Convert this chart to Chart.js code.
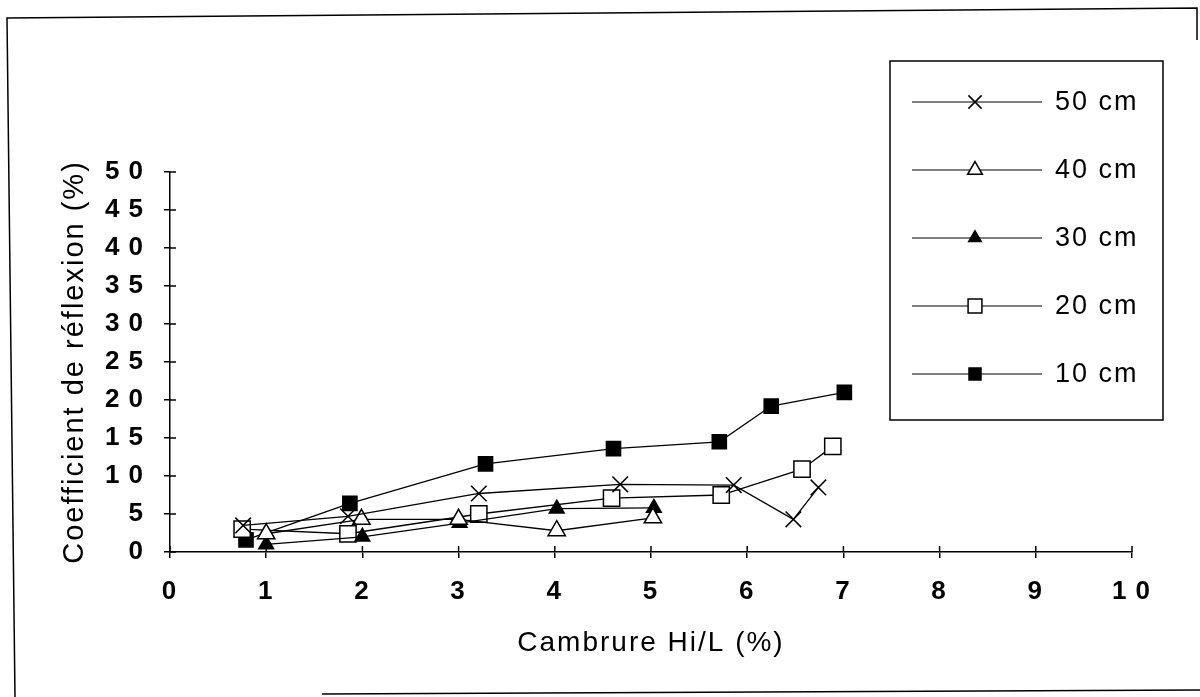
<!DOCTYPE html>
<html>
<head>
<meta charset="utf-8">
<script src="https://cdn.jsdelivr.net/npm/chart.js@4.4.0/dist/chart.umd.min.js"></script>
<style>
html,body{margin:0;padding:0;background:#fff;}
#wrap{width:1200px;height:697px;position:relative;}
</style>
</head>
<body>
<div id="wrap"><canvas id="c" width="1200" height="697"></canvas></div>
<script>
// ---- data ----
const seriesLabels = ['50 cm', '40 cm', '30 cm', '20 cm', '10 cm'];
const x50 = [0.76, 1.85, 3.21, 4.68, 5.86, 6.48, 6.74];
const y50 = [3.5, 4.7, 7.7, 8.9, 8.8, 4.3, 8.5];
const x40 = [1.00, 1.99, 3.00, 4.02, 5.02];
const y40 = [2.4, 4.3, 4.3, 2.8, 4.5];
const x30 = [1.00, 2.00, 3.01, 4.02, 5.03];
const y30 = [1.0, 2.0, 3.8, 5.7, 5.8];
const x20 = [0.75, 1.85, 3.21, 4.59, 5.73, 6.57, 6.89];
const y20 = [3.0, 2.4, 5.0, 7.1, 7.5, 10.9, 13.9];
const x10 = [0.79, 1.87, 3.28, 4.61, 5.71, 6.25, 7.01];
const y10 = [1.6, 6.4, 11.6, 13.6, 14.5, 19.2, 21.0];
const xTickValues = [0, 1, 2, 3, 4, 5, 6, 7, 8, 9, 10];
const yTickValues = [0, 5, 10, 15, 20, 25, 30, 35, 40, 45, 50];
const xTitle = 'Cambrure Hi/L (%)';
const yTitle = 'Coefficient de réflexion (%)';

const pts = (xs, ys) => xs.map((x, i) => ({x: x, y: ys[i]}));
const FONT = '"Liberation Sans", Arial, Helvetica, sans-serif';
const spaced = v => String(v).split('').join('\u2009');

const styles = [
  {pointStyle: 'crossRot', r: 11, bg: '#fff'},
  {pointStyle: 'triangle', r: 10, bg: '#fff'},
  {pointStyle: 'triangle', r: 8.5, bg: '#000'},
  {pointStyle: 'rect', r: 11.5, bg: '#fff'},
  {pointStyle: 'rect', r: 10, bg: '#000'}
];
const seriesData = [pts(x50, y50), pts(x40, y40), pts(x30, y30), pts(x20, y20), pts(x10, y10)];

const datasets = seriesLabels.map((lab, i) => ({
  label: lab,
  data: seriesData[i],
  borderColor: '#000',
  borderWidth: 1.3,
  pointStyle: styles[i].pointStyle,
  pointRadius: styles[i].r,
  pointBackgroundColor: styles[i].bg,
  pointBorderColor: '#000',
  pointBorderWidth: 1.5,
  showLine: true,
  fill: false,
  tension: 0
}));

const spacingPlugin = {
  id: 'spacing',
  beforeUpdate(chart) { chart.ctx.letterSpacing = '2px'; },
  beforeLayout(chart) { chart.ctx.letterSpacing = '2px'; },
  beforeDraw(chart) { chart.ctx.letterSpacing = '2px'; }
};

const decoPlugin = {
  id: 'deco',
  afterDraw(chart) {
    const ctx = chart.ctx;
    const xs = chart.scales.x, ys = chart.scales.y;
    ctx.save();
    ctx.strokeStyle = '#000';
    ctx.lineWidth = 1.5;
    // inner half of crossing tick marks
    const y0 = ys.getPixelForValue(0);
    xTickValues.forEach(v => {
      const px = xs.getPixelForValue(v);
      ctx.beginPath(); ctx.moveTo(px, y0 - 6); ctx.lineTo(px, y0); ctx.stroke();
    });
    const x0 = xs.getPixelForValue(0);
    yTickValues.forEach(v => {
      const py = ys.getPixelForValue(v);
      ctx.beginPath(); ctx.moveTo(x0, py); ctx.lineTo(x0 + 6, py); ctx.stroke();
    });
    // outer frame of the figure
    ctx.lineWidth = 1.5;
    ctx.beginPath();
    ctx.moveTo(15, 697); ctx.lineTo(7, 18); ctx.lineTo(1197, 8); ctx.lineTo(1197, 40);
    ctx.stroke();
    ctx.beginPath();
    ctx.moveTo(322, 694); ctx.lineTo(1200, 690);
    ctx.stroke();
    // legend box
    ctx.strokeRect(890, 61, 273, 359);
    chart.data.datasets.forEach((ds, i) => {
      const y = 102 + i * 68;
      ctx.lineWidth = 1.2;
      ctx.beginPath(); ctx.moveTo(912, y); ctx.lineTo(1042, y); ctx.stroke();
      ctx.fillStyle = ds.pointBackgroundColor;
      ctx.strokeStyle = '#000';
      ctx.lineWidth = 1.5;
      Chart.helpers.drawPoint(ctx, {
        pointStyle: ds.pointStyle,
        radius: ds.pointRadius * 0.85,
        borderWidth: 1.5,
        rotation: 0
      }, 975, y);
      ctx.fillStyle = '#000';
      ctx.font = '27px ' + FONT;
      ctx.textAlign = 'left';
      ctx.textBaseline = 'middle';
      ctx.fillText(ds.label, 1055, y + 1);
    });
    ctx.restore();
  }
};

new Chart(document.getElementById('c'), {
  type: 'scatter',
  data: {datasets: datasets},
  plugins: [spacingPlugin, decoPlugin],
  options: {
    responsive: false,
    animation: false,
    events: [],
    layout: {padding: {top: 172, right: 68, left: 0, bottom: 0}},
    plugins: {legend: {display: false}, tooltip: {enabled: false}, title: {display: false}},
    scales: {
      x: {
        type: 'linear', min: 0, max: 10,
        afterBuildTicks: s => { s.ticks = xTickValues.map(v => ({value: v})); },
        afterFit: s => { s.height = 145; },
        ticks: {color: '#000', padding: 18, font: {family: FONT, size: 26, weight: 'bold'}, maxRotation: 0, callback: v => spaced(v)},
        grid: {drawOnChartArea: false, drawTicks: true, tickLength: 6, color: '#000', lineWidth: 1.5},
        border: {display: true, color: '#000', width: 1.5},
        title: {display: true, text: xTitle, color: '#000', font: {family: FONT, size: 28}, padding: {top: 0, bottom: 37}}
      },
      y: {
        type: 'linear', min: 0, max: 50,
        afterBuildTicks: s => { s.ticks = yTickValues.map(v => ({value: v})); },
        afterFit: s => { s.width = 170; },
        ticks: {color: '#000', padding: 19, font: {family: FONT, size: 26, weight: 'bold'}, callback: v => spaced(v)},
        grid: {drawOnChartArea: false, drawTicks: true, tickLength: 6, color: '#000', lineWidth: 1.5},
        border: {display: true, color: '#000', width: 1.5},
        title: {display: true, text: yTitle, color: '#000', font: {family: FONT, size: 29}, padding: {top: 58, bottom: 0}}
      }
    }
  }
});
</script>
</body>
</html>
